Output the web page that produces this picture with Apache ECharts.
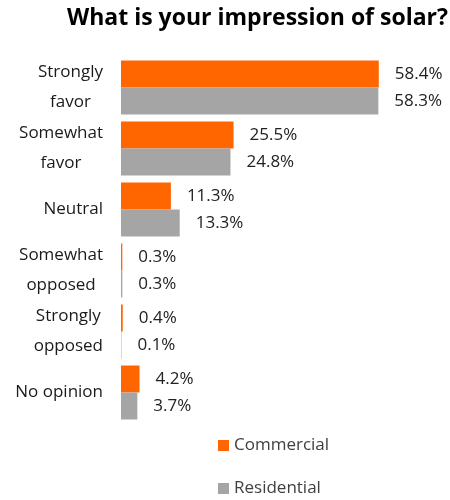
<!DOCTYPE html>
<html>
<head>
<meta charset="utf-8">
<script src="https://cdn.jsdelivr.net/npm/echarts@6/dist/echarts.min.js"></script>
<style>
  html, body { margin: 0; padding: 0; background: #fff; }
  #chart { width: 450px; height: 500px; }
</style>
</head>
<body>
<div id="chart"></div>
<script>
// Survey answers, top to bottom
const categories = ['Strongly\nfavor', 'Somewhat\nfavor', 'Neutral', 'Somewhat\nopposed', 'Strongly\nopposed', 'No opinion'];
// Share of respondents (%)
const commercial = [58.4, 25.5, 11.3, 0.3, 0.4, 4.2];
const residential = [58.3, 24.8, 13.3, 0.3, 0.1, 3.7];
const seriesNames = ['Commercial', 'Residential'];

const FONT = 'Open Sans';
const chart = echarts.init(document.getElementById('chart'), null, { renderer: 'canvas' });

const valueLabel = {
  show: true,
  position: 'right',
  distance: 16,
  formatter: p => p.value + '%',
  fontFamily: FONT,
  fontSize: 17,
  color: '#222'
};

chart.setOption({
  animation: false,
  title: {
    text: 'What is your impression of solar?',
    right: 0,
    top: 2,
    padding: [5, 2, 5, 2],
    textStyle: { fontFamily: FONT, fontSize: 23, fontWeight: 'bold', color: '#000' }
  },
  legend: {
    orient: 'vertical',
    left: 218,
    top: 437,
    padding: 0,
    icon: 'rect',
    itemWidth: 11,
    itemHeight: 11,
    itemGap: 26,
    data: seriesNames,
    textStyle: { fontFamily: FONT, fontSize: 17, color: '#404040' }
  },
  grid: { left: 121, right: 20, top: 57, bottom: 77, containLabel: false },
  xAxis: {
    type: 'value',
    min: 0,
    max: 70,
    show: false
  },
  yAxis: {
    type: 'category',
    inverse: true,
    data: categories,
    axisLine: { show: false },
    axisTick: { show: false },
    splitLine: { show: false },
    axisLabel: {
      margin: 18,
      fontFamily: FONT,
      fontSize: 17,
      color: '#1a1a1a',
      lineHeight: 30,
      formatter: v => v.split('\n').map(l => '{c|' + l + '}').join('\n'),
      rich: {
        c: { align: 'center', fontFamily: FONT, fontSize: 17, lineHeight: 30, color: '#1a1a1a' }
      }
    }
  },
  series: [
    {
      name: seriesNames[0],
      type: 'bar',
      data: commercial,
      barWidth: 27,
      barGap: '0%',
      itemStyle: { color: '#FF6600' },
      label: valueLabel
    },
    {
      name: seriesNames[1],
      type: 'bar',
      data: residential,
      barWidth: 27,
      barGap: '0%',
      itemStyle: { color: '#A5A5A5' },
      label: valueLabel
    }
  ]
});
</script>
</body>
</html>
